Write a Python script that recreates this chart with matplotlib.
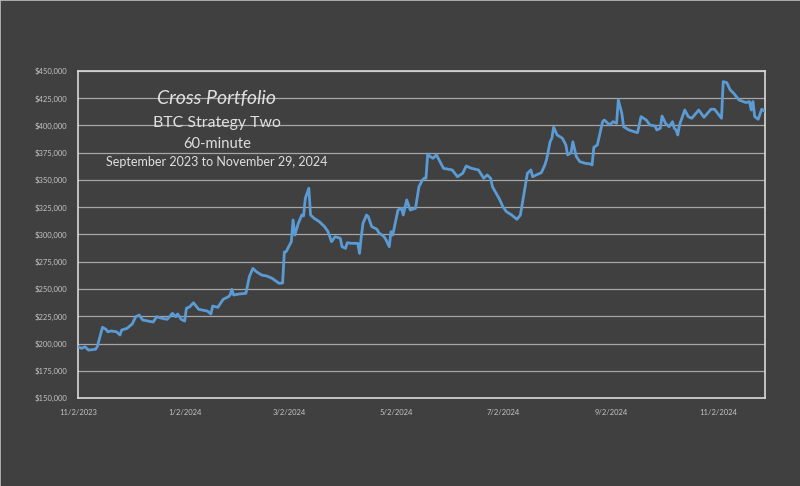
# coding: utf-8

import matplotlib
matplotlib.use('Agg')
import matplotlib.pyplot as plt
import matplotlib.dates as mdates
import matplotlib.ticker as ticker
import pandas as pd

# equity curve (days since 11/2/2023, account value $)
start_date = '2023-11-02'
day_offsets = [
    0, 2, 4, 6, 10, 11, 14, 16, 17, 19, 22, 24, 25, 28, 31, 33, 35, 37, 40, 43,
    45, 48, 51, 54, 56, 57, 59, 61, 62, 64, 66, 69, 71, 74, 76, 77, 80, 83, 86, 87,
    88, 89, 92, 96, 98, 100, 102, 105, 108, 111, 115, 117, 118, 119, 121, 122, 123, 124, 126, 128,
    129, 130, 132, 133, 135, 138, 141, 143, 145, 147, 150, 151, 153, 154, 156, 160, 161, 162, 163, 165,
    166, 168, 171, 172, 175, 176, 178, 179, 180, 183, 185, 186, 188, 190, 193, 195, 197, 198, 199, 200,
    201, 203, 205, 209, 214, 217, 220, 222, 225, 229, 232, 234, 236, 237, 241, 243, 245, 248, 251, 253,
    257, 259, 260, 262, 265, 267, 268, 270, 271, 272, 274, 277, 279, 280, 282, 283, 285, 287, 290, 293,
    294, 295, 297, 300, 301, 304, 306, 308, 309, 311, 312, 315, 318, 320, 322, 325, 327, 330, 331, 333,
    334, 336, 338, 340, 341, 342, 343, 344, 347, 349, 351, 355, 358, 362, 364, 368, 369, 371, 373, 375,
    378, 382, 384, 385, 386, 387, 389, 391, 393,
]
equity = [
    197100, 195600, 197000, 194000, 194700, 197000, 214900, 213000, 210800, 211500,
    210800, 207800, 212400, 213900, 217900, 224600, 226100, 221600, 220600, 219700,
    224600, 223100, 222200, 227700, 224600, 227100, 222200, 220600, 232300, 233800,
    237400, 231400, 230700, 229800, 227100, 234400, 233200, 240500, 242900, 244500,
    249700, 244500, 245400, 246000, 261300, 268900, 265900, 262800, 261900, 259800,
    255200, 255500, 284000, 284200, 290400, 293400, 313300, 299500, 310300, 317900,
    317000, 333200, 342400, 317900, 314900, 311800, 307200, 302600, 293400, 298000,
    296500, 288800, 287300, 292500, 291900, 291900, 282700, 298000, 310300, 317900,
    316300, 307200, 304800, 301700, 298000, 295600, 288800, 302600, 299500, 322500,
    324000, 317900, 331700, 322500, 324000, 343900, 350000, 351600, 351600, 373900,
    372000, 369900, 373000, 360700, 359200, 353000, 356100, 362800, 360700, 359200,
    351600, 354600, 351600, 343900, 332500, 325500, 320900, 317900, 313900, 317900,
    356100, 359200, 353000, 354600, 356700, 363800, 369000, 385100, 388300, 398400,
    391300, 388300, 382100, 373000, 375100, 385100, 371400, 366800, 365300, 364700,
    363800, 380000, 382100, 403500, 405000, 400500, 403500, 402000, 423400, 411200,
    398900, 395900, 394300, 393400, 408100, 405000, 400500, 399500, 395900, 397400,
    408700, 402000, 398900, 403500, 397400, 395900, 391300, 400500, 414200, 408100,
    406600, 414200, 407500, 414900, 414900, 406600, 440200, 439300, 432600, 429500,
    423400, 421000, 421900, 414200, 421900, 408100, 405700, 414900, 412700,
]

tick_labels = ['2023-11-02', '2024-01-02', '2024-03-02', '2024-05-02',
               '2024-07-02', '2024-09-02', '2024-11-02']
title_lines = ['Cross Portfolio', 'BTC Strategy Two', '60-minute',
               'September 2023 to November 29, 2024']

dates = pd.Timestamp(start_date) + pd.to_timedelta(day_offsets, unit='D')

bg = '#404040'
txt = '#c4c4c4'
plt.rcParams['font.family'] = ['Lato', 'DejaVu Sans']

fig = plt.figure(figsize=(8, 4.86), dpi=100, facecolor=bg)
ax = fig.add_axes([0.0975, 0.181, 0.859, 0.673], facecolor=bg)

ax.plot(dates, equity, color='#5b9bd5', lw=2.0, solid_joinstyle='round', zorder=3)

ax.set_ylim(150000, 450000)
ax.set_xlim(pd.Timestamp('2023-11-02'), pd.Timestamp('2024-11-29'))
ax.yaxis.set_major_locator(ticker.MultipleLocator(25000))
ax.yaxis.set_major_formatter(ticker.FuncFormatter(lambda v, p: '${:,.0f}'.format(v)))
ax.set_xticks(pd.to_datetime(tick_labels))
ax.xaxis.set_major_formatter(mdates.DateFormatter('%-m/%-d/%Y'))
ax.grid(axis='y', color='#a6a6a6', lw=0.9, zorder=1)
ax.tick_params(length=0, colors=txt, labelsize=5.5)
ax.tick_params(axis='y', pad=8)
ax.tick_params(axis='x', pad=8)
for s in ax.spines.values():
    s.set_color('#d9d9d9')
    s.set_linewidth(1.2)

# title block inside the plot
sizes = [14, 11.4, 10.6, 9.0]
ys = [0.787, 0.739, 0.695, 0.658]
for line, fs, y in zip(title_lines, sizes, ys):
    fig.text(0.271, y, line, color='#e0e0e0', fontsize=fs, ha='center', va='baseline',
             style='italic' if line == title_lines[0] else 'normal')

# thin light edge at top and left of the image
fig.add_artist(plt.Line2D([0, 1], [0.999, 0.999], color='#bfbfbf', lw=1.2, transform=fig.transFigure))
fig.add_artist(plt.Line2D([0.0006, 0.0006], [0, 1], color='#bfbfbf', lw=1.2, transform=fig.transFigure))

fig.savefig('out.png', dpi=100, facecolor=bg)
